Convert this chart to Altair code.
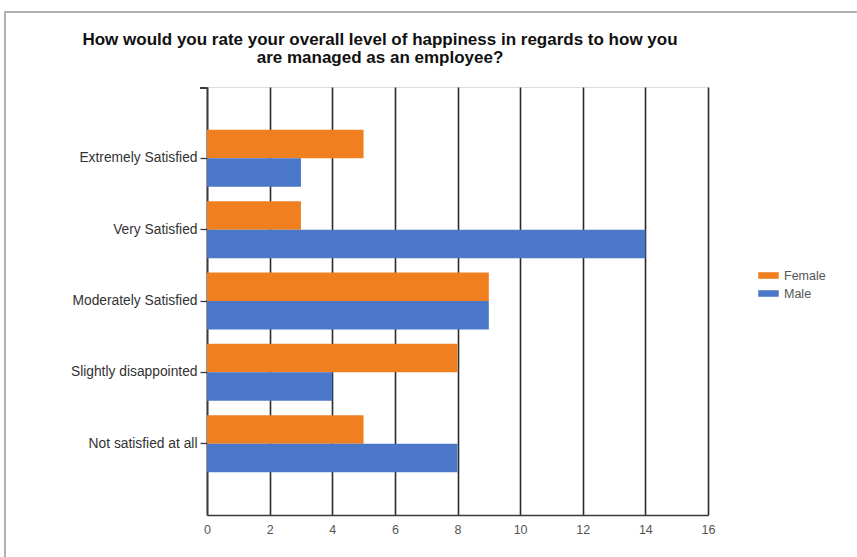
import altair as alt
import pandas as pd

categories = ["Extremely Satisfied", "Very Satisfied", "Moderately Satisfied",
              "Slightly disappointed", "Not satisfied at all"]
female = [5, 3, 9, 8, 5]
male = [3, 14, 9, 4, 8]
series = ["Female", "Male"]
colors = ["#EF7F1F", "#4A77C7"]
x_ticks = [0, 2, 4, 6, 8, 10, 12, 14, 16]
title_lines = ["How would you rate your overall level of happiness in regards to how you",
               "are managed as an employee?"]

rows = []
for c, f, m in zip(categories, female, male):
    rows.append({"answer": c, "gender": "Female", "count": f})
    rows.append({"answer": c, "gender": "Male", "count": m})
df = pd.DataFrame(rows)

FONT = "Liberation Sans"

bars = alt.Chart(df).mark_bar(cornerRadius=0).encode(
    x=alt.X("count:Q", scale=alt.Scale(domain=[0, 16], nice=False),
            axis=alt.Axis(values=x_ticks, title=None, grid=True, gridColor="#2b2b2b",
                          gridWidth=1.6, gridOpacity=1, domainColor="#3a3a3a", domainWidth=1.6,
                          tickSize=0, labelPadding=8, labelFontSize=12.5, labelColor="#555555",
                          labelFont=FONT, labelFlush=False)),
    y=alt.Y("answer:N", sort=categories,
            scale=alt.Scale(paddingInner=0.2, paddingOuter=0.6),
            axis=alt.Axis(title=None, domainColor="#3a3a3a", domainWidth=1.6, tickColor="#3a3a3a",
                          tickWidth=1.3, tickSize=7, labelPadding=3, labelFontSize=13.8,
                          labelColor="#333333", labelFont=FONT)),
    yOffset=alt.YOffset("gender:N", sort=series, scale=alt.Scale(paddingInner=0, paddingOuter=0)),
    color=alt.Color("gender:N", sort=series,
                    scale=alt.Scale(domain=series, range=colors),
                    legend=alt.Legend(title=None, orient="none", legendX=551, legendY=178,
                                      symbolType="M-1,-0.32H1V0.32H-1Z", symbolSize=420,
                                      symbolStrokeWidth=0, labelFontSize=12.5, labelColor="#555555",
                                      labelFont=FONT, rowPadding=1, labelOffset=5)),
)

top_tick = alt.Chart(df).mark_rule(color="#3a3a3a", strokeWidth=1.6).encode(
    x=alt.value(-7), x2=alt.value(0), y=alt.value(1)
)

frame = alt.Chart(df).mark_rect(fill=None, stroke="#b0b0b0", strokeWidth=2).encode(
    x=alt.value(-202), x2=alt.value(700), y=alt.value(-75), y2=alt.value(520)
)

title_df = pd.DataFrame({"line": title_lines, "ypix": [-47, -29]})
title = alt.Chart(title_df).mark_text(
    font=FONT, fontSize=17, fontWeight="bold", color="#111111", align="center", baseline="middle"
).encode(text="line:N", x=alt.value(173), y=alt.Y("ypix:Q", scale=None))

chart = alt.layer(frame, bars, top_tick, title).properties(
    width=501, height=428,
    autosize=alt.AutoSizeParams(type="none"),
    padding={"left": 207, "top": 87, "right": 149, "bottom": 42},
).configure_view(stroke=None).configure(background="white")

chart.save("out.html", embed_options={"renderer": "svg", "actions": False})
